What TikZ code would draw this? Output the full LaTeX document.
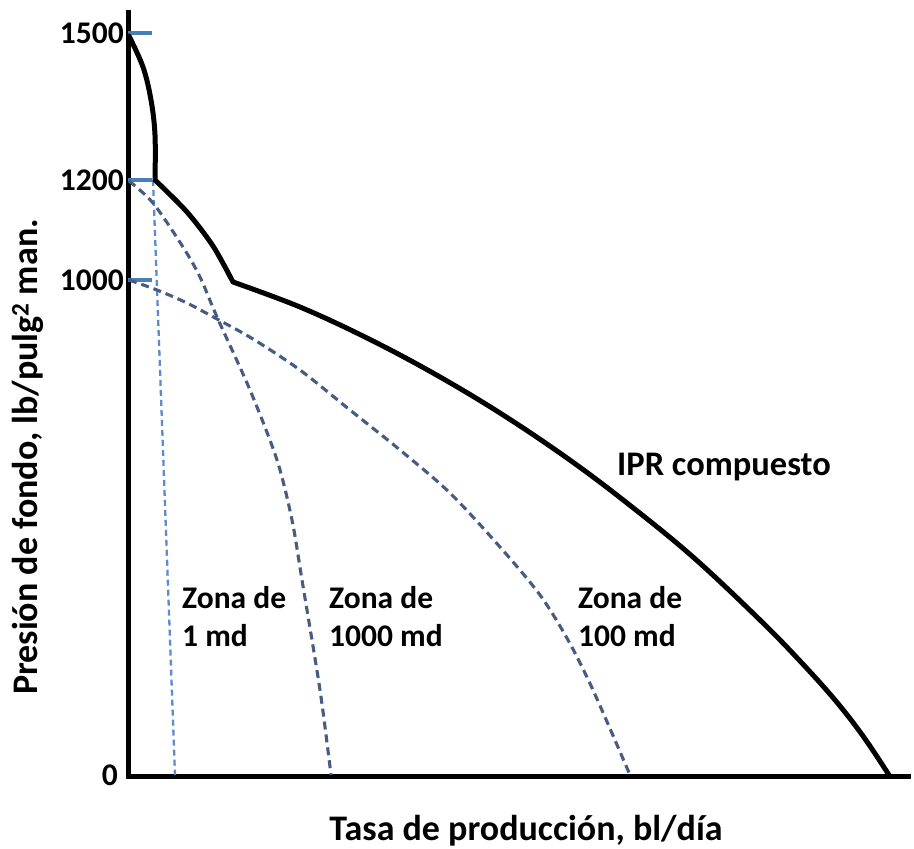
\documentclass[tikz,border=0pt]{standalone}
\usepackage{fontspec}
\setmainfont{Carlito}
\begin{document}
\begin{tikzpicture}[x=1pt,y=-1pt,
  lbl/.style={font=\bfseries\fontsize{31.5}{36}\selectfont, inner sep=0pt},
  ttl/.style={font=\bfseries\fontsize{36}{40}\selectfont, inner sep=0pt},
  axisline/.style={line width=5pt, black},
  tickmark/.style={line width=4.5pt, color=tickblue},
  ipr/.style={line width=5pt, black, line join=round, line cap=round},
  zonelight/.style={line width=2.3pt, color=lightdash, dash pattern=on 6pt off 4pt},
  zonedark/.style={line width=3.1pt, color=darkdash, dash pattern=on 8pt off 5pt}
]
\definecolor{tickblue}{RGB}{74,126,187}
\definecolor{lightdash}{RGB}{92,140,204}
\definecolor{darkdash}{RGB}{70,92,128}
\useasboundingbox (0,0) rectangle (914,849);
\fill[white] (0,0) rectangle (914,849);

% axes
\coordinate (top) at (128,10);
\coordinate (orig) at (128,776);
\coordinate (xend) at (911,776);
\draw[axisline] (top) -- (orig) -- (xend);

% ticks
\coordinate (t1500) at (128,33);
\coordinate (t1200) at (128,180);
\coordinate (t1000) at (128,280);
\draw[tickmark] (t1500) -- ++(24,0);
\draw[tickmark] (t1200) -- ++(24,0);
\draw[tickmark] (t1000) -- ++(24,0);

\node[lbl, anchor=east] (l1500) at (124,33) {1500};
\node[lbl, anchor=east] (l1200) at (124,180) {1200};
\node[lbl, anchor=east] (l1000) at (124,280) {1000};
\node[lbl, anchor=east] (l0) at (118,775) {0};

% zone curves
\draw[zonelight] (153,180) -- (175,775);
\draw[zonedark] plot[smooth, tension=0.5] coordinates {(129,181) (153,203) (183,247) (200,277) (217,317) (250,390) (277,460) (292,520) (302,580) (320,690) (331,775)};
\draw[zonedark] plot[smooth, tension=0.5] coordinates {(129,280) (157,290) (187,303) (217,319) (253,339) (300,370) (350,410) (400,450) (450,493) (500,547) (540,595) (568,640) (593,690) (630,775)};

% composite IPR
\draw[ipr] plot[smooth, tension=0.6] coordinates {(129,36) (143,67) (151,100) (155,135) (155,180)}
  -- plot[smooth, tension=0.5] coordinates {(155,180) (187,212) (213,246) (233,282)}
  -- plot[smooth, tension=0.6] coordinates {(233,282) (300,307) (367,338) (433,373) (500,413) (567,458) (627,503) (693,557) (760,620) (800,661) (835,700) (863,736) (889,775)};

% labels
\node[lbl, anchor=west, align=left] (z1) at (182,617) {Zona de\\[2pt]1 md};
\node[lbl, anchor=west, align=left] (z1000) at (329,617) {Zona de\\[2pt]1000 md};
\node[lbl, anchor=west, align=left] (z100) at (578,617) {Zona de\\[2pt]100 md};
\node[lbl, anchor=west, font=\bfseries\fontsize{34.5}{40}\selectfont] (iprlbl) at (617,467) {IPR compuesto};

\node[ttl] (xlbl) at (526,831) {Tasa de producción, bl/día};
\node[ttl, rotate=90] (ylbl) at (28,457) {Presión de fondo, lb/pulg\textsuperscript{2} man.};
\end{tikzpicture}
\end{document}
